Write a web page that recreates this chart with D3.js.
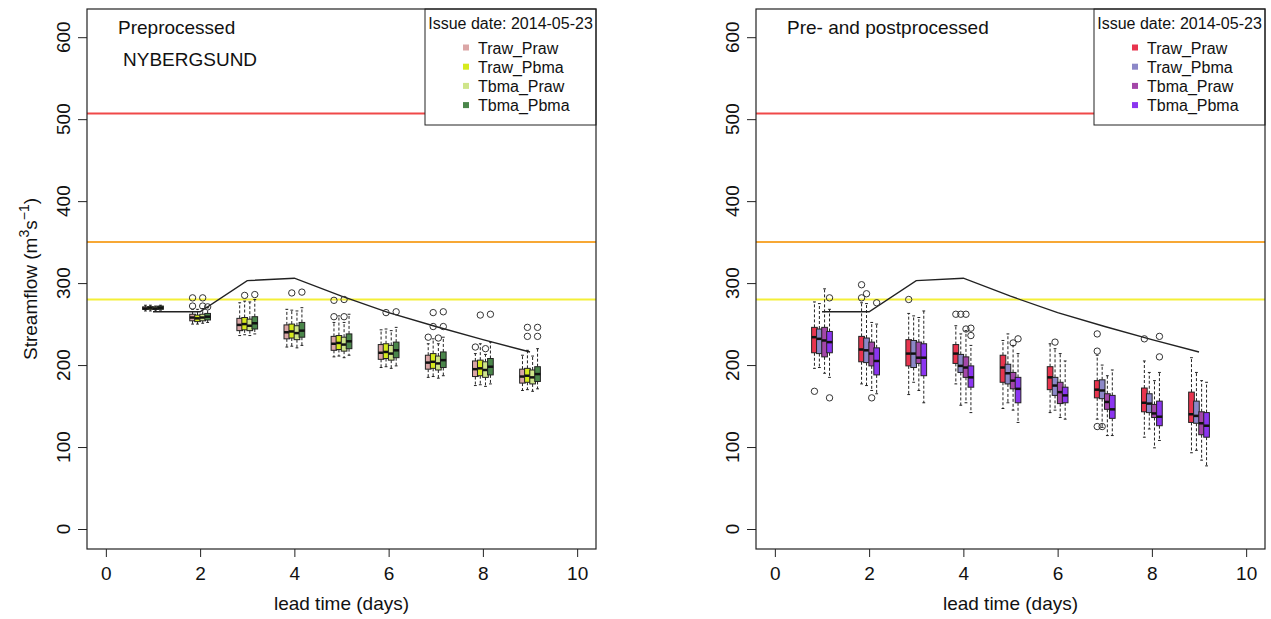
<!DOCTYPE html>
<html>
<head>
<meta charset="utf-8">
<script src="https://cdn.jsdelivr.net/npm/d3@7"></script>
<style>
  body { margin: 0; background: #fff; }
  svg text { font-family: "Liberation Sans", Arial, sans-serif; fill: #111; }
</style>
</head>
<body>
<div id="chart"></div>
<script>
// ---- data ----
const days = [1, 2, 3, 4, 5, 6, 7, 8, 9];
const xTicks = [0, 2, 4, 6, 8, 10];
const yTicks = [0, 100, 200, 300, 400, 500, 600];
const seriesNames = ["Traw_Praw", "Traw_Pbma", "Tbma_Praw", "Tbma_Pbma"];
const issueDate = "Issue date: 2014-05-23";

// observed streamflow
const observed = [265, 265, 303, 306, 284, 264, 247, 231, 216];
// flood thresholds
const thresholds = [507, 350, 280];

// box stats per day: [low whisker, q1, median, q3, high whisker]
const preTrawPraw = [[266,268,269,271,273],[250,254,258,262,268],[236,242,249,257,276],[222,232,240,249,268],[210,218,226,235,252],[197,207,215,225,243],[185,195,203,212,226],[175,186,195,205,214],[169,178,186,195,212]];
const preTrawPbma = [[266,268,270,271,273],[250,253,257,261,268],[237,243,250,258,278],[223,233,241,250,267],[211,219,227,236,260],[198,208,216,226,244],[186,196,204,214,232],[176,187,196,206,226],[170,179,187,196,218]];
const preTbmaPraw = [[266,268,269,271,272],[251,254,258,262,269],[236,242,248,256,277],[221,231,239,248,266],[209,217,225,234,252],[196,206,214,224,242],[184,194,202,211,226],[174,185,194,204,213],[168,177,185,194,211]];
const preTbmaPbma = [[267,268,270,272,273],[252,255,259,263,270],[238,244,251,259,280],[224,234,242,252,270],[212,220,229,238,262],[199,209,218,228,246],[187,197,206,216,234],[177,188,198,208,228],[171,180,189,198,220]];

const preTrawPrawOut = [[],[272,282],[],[],[259,279],[],[234],[222],[]];
const preTrawPbmaOut = [[],[],[285],[288],[],[264],[247,264],[261],[235,246]];
const preTbmaPrawOut = [[],[272,282],[],[],[259,280],[],[233],[220],[]];
const preTbmaPbmaOut = [[],[271],[286],[289],[],[265],[247,265],[262],[235,246]];

const postTrawPraw = [[196,215,234,246,277],[177,204,219,235,276],[164,199,214,231,263],[177,202,214,225,248],[147,179,197,212,230],[142,170,185,198,226],[134,160,170,181,212],[112,143,154,172,205],[93,130,140,167,209]];
const postTrawPbma = [[197,214,232,244,275],[175,203,218,233,275],[179,197,214,230,260],[151,191,199,213,238],[154,177,190,201,238],[145,163,175,185,220],[124,159,169,182,200],[122,142,153,165,191],[96,129,138,156,191]];
const postTbmaPraw = [[190,210,230,246,293],[169,199,214,228,252],[169,202,209,228,258],[154,185,197,210,242],[145,171,181,191,224],[136,153,167,179,214],[114,146,155,165,187],[99,136,141,152,181],[84,115,129,143,181]];
const postTbmaPbma = [[185,215,228,241,268],[165,188,205,221,250],[154,187,209,226,266],[142,173,185,199,224],[130,154,171,185,214],[134,154,163,173,205],[114,135,146,163,194],[108,126,137,156,191],[77,112,126,142,179]];

const postTrawPrawOut = [[168],[282,298],[280],[262],[],[],[125,217,238],[232],[]];
const postTrawPbmaOut = [[],[287],[],[262],[],[228],[125],[],[]];
const postTbmaPrawOut = [[],[160],[],[244,262],[227],[],[],[],[]];
const postTbmaPbmaOut = [[160,282],[276],[],[236,245],[232],[],[],[210,235],[]];

// ---- styles ----
const preColors = ["#dba6a6", "#d6ea1c", "#cfe58a", "#4a864a"];
const postColors = ["#e8344e", "#8c88c8", "#a347a8", "#8b35f0"];
const thresholdColors = ["#f04848", "#f7a835", "#f4ef38"];
const boxOffsets = [-0.16, -0.055, 0.055, 0.16];
const boxWidth = 0.12;

const W = 1271, H = 619;
const svg = d3.select("#chart").append("svg")
    .attr("width", W)
    .attr("height", H);

function drawPanel(p) {
    let g = svg.append("g");

    let x = d3.scaleLinear().domain([-0.4, 10.4]).range([p.left, p.left + 509]);
    let y = d3.scaleLinear().domain([-24.4, 634.4]).range([549, 9]);

    // threshold lines
    g.selectAll(".thr")
        .data(thresholds)
        .enter().append("line")
        .attr("x1", x.range()[0]).attr("x2", x.range()[1])
        .attr("y1", d => y(d)).attr("y2", d => y(d))
        .attr("stroke", (d, i) => thresholdColors[i])
        .attr("stroke-width", 2);

    // observed line
    g.append("path")
        .datum(observed)
        .attr("fill", "none")
        .attr("stroke", "#222")
        .attr("stroke-width", 1.4)
        .attr("d", d3.line().x((d, i) => x(days[i])).y(d => y(d)));

    // boxplots
    let bw = x(boxWidth) - x(0);
    p.stats.forEach((series, j) => {
        let sg = g.append("g");
        series.forEach((s, i) => {
            let cx = x(days[i] + boxOffsets[j]);
            // whiskers
            [[s[3], s[4]], [s[1], s[0]]].forEach(w => {
                sg.append("line")
                    .attr("x1", cx).attr("x2", cx)
                    .attr("y1", y(w[0])).attr("y2", y(w[1]))
                    .attr("stroke", "#222").attr("stroke-width", 1)
                    .attr("stroke-dasharray", "3,2");
                sg.append("line")
                    .attr("x1", cx - bw / 4).attr("x2", cx + bw / 4)
                    .attr("y1", y(w[1])).attr("y2", y(w[1]))
                    .attr("stroke", "#222").attr("stroke-width", 1);
            });
            sg.append("rect")
                .attr("x", cx - bw / 2)
                .attr("y", y(s[3]))
                .attr("width", bw)
                .attr("height", y(s[1]) - y(s[3]))
                .attr("fill", p.colors[j])
                .attr("stroke", "#222")
                .attr("stroke-width", 1);
            sg.append("line")
                .attr("x1", cx - bw / 2).attr("x2", cx + bw / 2)
                .attr("y1", y(s[2])).attr("y2", y(s[2]))
                .attr("stroke", "#111").attr("stroke-width", 2.5);
            p.outliers[j][i].forEach(o => {
                sg.append("circle")
                    .attr("cx", cx).attr("cy", y(o)).attr("r", 3.2)
                    .attr("fill", "none").attr("stroke", "#333").attr("stroke-width", 1);
            });
        });
    });

    // legend
    let lw = 171, lx = x.range()[1] - lw, ly = 9;
    let leg = g.append("g");
    leg.append("rect")
        .attr("x", lx).attr("y", ly).attr("width", lw).attr("height", 116)
        .attr("fill", "#fff").attr("stroke", "#222").attr("stroke-width", 1);
    leg.append("text")
        .attr("x", lx + lw / 2).attr("y", ly + 20)
        .attr("text-anchor", "middle")
        .attr("font-size", 16)
        .text(issueDate);
    seriesNames.forEach((name, i) => {
        let cy = ly + 38.5 + i * 19.2;
        leg.append("rect")
            .attr("x", lx + 38).attr("y", cy - 3)
            .attr("width", 6).attr("height", 6)
            .attr("fill", p.colors[i]);
        leg.append("text")
            .attr("x", lx + 53).attr("y", cy + 6)
            .attr("font-size", 16)
            .text(name);
    });

    // frame
    g.append("rect")
        .attr("x", x.range()[0]).attr("y", 9)
        .attr("width", 509).attr("height", 540)
        .attr("fill", "none").attr("stroke", "#222").attr("stroke-width", 1.2);

    // x axis
    let xAxis = g.append("g")
        .attr("transform", "translate(0,549)")
        .call(d3.axisBottom(x).tickValues(xTicks).tickSize(8).tickPadding(10));
    xAxis.select(".domain").remove();
    xAxis.selectAll("line").attr("stroke", "#222");
    xAxis.selectAll("text").attr("font-size", 19).attr("font-family", "Liberation Sans, Arial, sans-serif").attr("fill", "#111");

    // y axis (labels rotated like R's default)
    let yAxis = g.append("g")
        .attr("transform", `translate(${x.range()[0]},0)`)
        .call(d3.axisLeft(y).tickValues(yTicks).tickSize(9).tickFormat(""));
    yAxis.select(".domain").remove();
    yAxis.selectAll("line").attr("stroke", "#222");
    g.selectAll(".ylab")
        .data(yTicks)
        .enter().append("text")
        .attr("transform", d => `translate(${x.range()[0] - 17},${y(d)}) rotate(-90)`)
        .attr("text-anchor", "middle")
        .attr("font-size", 19)
        .text(d => d);

    // titles
    p.titles.forEach((t, i) => {
        g.append("text")
            .attr("x", x.range()[0] + t.dx)
            .attr("y", t.y)
            .attr("font-size", 19)
            .text(t.text);
    });

    // x title
    g.append("text")
        .attr("x", (x.range()[0] + x.range()[1]) / 2)
        .attr("y", 610)
        .attr("text-anchor", "middle")
        .attr("font-size", 19)
        .text("lead time (days)");

    if (p.yTitle) {
        let t = svg.append("text")
            .attr("transform", "translate(37,279) rotate(-90)")
            .attr("text-anchor", "middle")
            .attr("font-size", 19);
        t.append("tspan").text("Streamflow (m");
        t.append("tspan").attr("font-size", 14).attr("dy", -8).text("3");
        t.append("tspan").attr("dy", 8).text("s");
        t.append("tspan").attr("font-size", 14).attr("dy", -8).text("\u22121");
        t.append("tspan").attr("dy", 8).text(")");
    }
}

drawPanel({
    left: 87,
    stats: [preTrawPraw, preTrawPbma, preTbmaPraw, preTbmaPbma],
    outliers: [preTrawPrawOut, preTrawPbmaOut, preTbmaPrawOut, preTbmaPbmaOut],
    colors: preColors,
    titles: [{text: "Preprocessed", dx: 31, y: 34}, {text: "NYBERGSUND", dx: 36, y: 66}],
    yTitle: true
});

drawPanel({
    left: 756,
    stats: [postTrawPraw, postTrawPbma, postTbmaPraw, postTbmaPbma],
    outliers: [postTrawPrawOut, postTrawPbmaOut, postTbmaPrawOut, postTbmaPbmaOut],
    colors: postColors,
    titles: [{text: "Pre- and postprocessed", dx: 31, y: 34}],
    yTitle: false
});
</script>
</body>
</html>
